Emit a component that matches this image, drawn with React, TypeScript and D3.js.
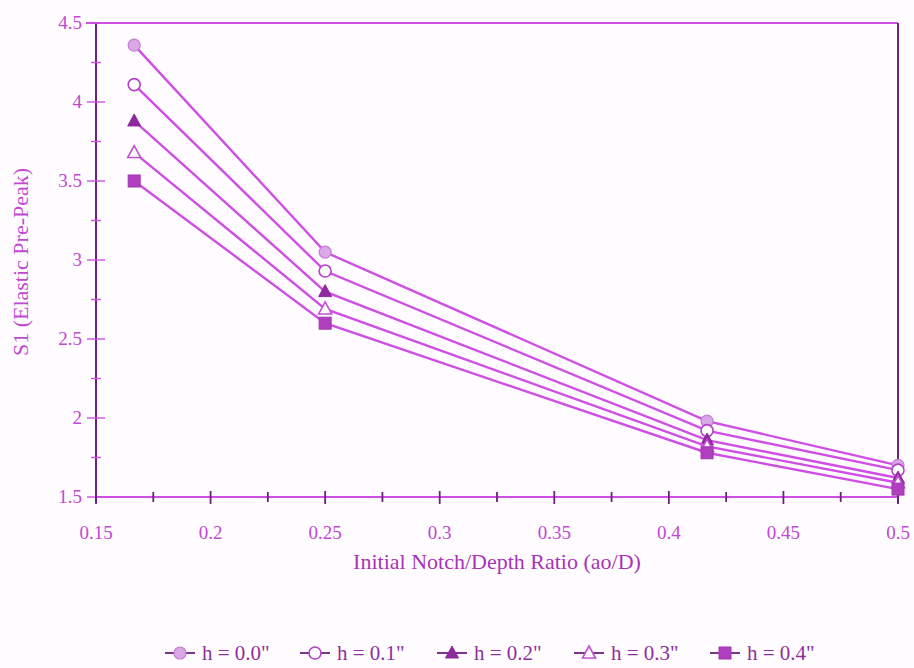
import React from "react";
import * as d3 from "d3";

const xValues = [1 / 6, 0.25, 5 / 12, 0.5];
const seriesNames = ['h = 0.0"', 'h = 0.1"', 'h = 0.2"', 'h = 0.3"', 'h = 0.4"'];
const s00 = [4.36, 3.05, 1.98, 1.70];
const s01 = [4.11, 2.93, 1.92, 1.67];
const s02 = [3.88, 2.80, 1.86, 1.62];
const s03 = [3.68, 2.69, 1.82, 1.59];
const s04 = [3.50, 2.60, 1.78, 1.55];
const xTicks = [0.15, 0.2, 0.25, 0.3, 0.35, 0.4, 0.45, 0.5];
const yTicks = [1.5, 2, 2.5, 3, 3.5, 4, 4.5];
const markers = ["circleFilled", "circleOpen", "triFilled", "triOpen", "square"];

const W = 914, H = 668;
const left = 96, right = 898, top = 23, bottom = 497;
const LINE = "#cf4fe4";
const AXIS = "#6e1f80";
const TEXT = "#c148d2";
const FONT = "'Liberation Serif', 'Times New Roman', serif";

function Marker({ type, x, y }: { type: string; x: number; y: number }) {
  const r = 6;
  if (type === "circleFilled") return <circle cx={x} cy={y} r={r} fill="#dba8e6" stroke="#c77bd6" strokeWidth={1.2} />;
  if (type === "circleOpen") return <circle cx={x} cy={y} r={r} fill="#fff" stroke="#b540c8" strokeWidth={1.6} />;
  if (type === "triFilled") return <path d={`M${x},${y - 7}L${x + 6.5},${y + 5}L${x - 6.5},${y + 5}Z`} fill="#8e2a9e" stroke="#8e2a9e" />;
  if (type === "triOpen") return <path d={`M${x},${y - 7}L${x + 6.5},${y + 5}L${x - 6.5},${y + 5}Z`} fill="#fff" stroke="#c24fd4" strokeWidth={1.6} />;
  return <rect x={x - 6} y={y - 6} width={12} height={12} fill="#b03fbf" stroke="#a038b0" />;
}

export default function App() {
  const series = [s00, s01, s02, s03, s04];
  const x = d3.scaleLinear().domain([0.15, 0.5]).range([left, right]);
  const y = d3.scaleLinear().domain([1.5, 4.5]).range([bottom, top]);
  const line = d3.line<number>().x((_, i) => x(xValues[i])).y((d) => y(d));
  const xMinor = d3.range(0, 15).map((i) => 0.15 + i * 0.025);
  const yMinor = d3.range(0, 13).map((i) => 1.5 + i * 0.25);
  const legendX = [165, 300, 437, 574, 710];
  const legendY = 653;

  return (
    <svg width={W} height={H} style={{ display: "block", position: "absolute", left: 0, top: 0, background: "#fefcfe" }}>
      <line x1={86} x2={right} y1={top} y2={top} stroke={LINE} strokeWidth={2} />
      <line x1={right} x2={right} y1={top} y2={bottom + 6} stroke={AXIS} strokeWidth={2} />
      <line x1={left} x2={right} y1={bottom} y2={bottom} stroke={LINE} strokeWidth={2} />
      <line x1={left} x2={left} y1={top} y2={bottom + 6} stroke={AXIS} strokeWidth={2} />
      {yMinor.map((v, i) => (
        <line key={"ym" + i} x1={left - (i % 2 === 0 ? 9 : 5)} x2={left + (i % 2 === 0 ? 9 : 5)} y1={y(v)} y2={y(v)} stroke={LINE} strokeWidth={1.4} />
      ))}
      {xMinor.map((v, i) => (
        <line key={"xm" + i} x1={x(v)} x2={x(v)} y1={bottom - (i % 2 === 0 ? 6 : 5)} y2={bottom + (i % 2 === 0 ? 7 : 5)} stroke={AXIS} strokeWidth={1.8} />
      ))}
      {yTicks.map((v) => (
        <text key={"yl" + v} x={82} y={y(v) + 6} textAnchor="end" fontFamily={FONT} fontSize={19} fill={TEXT}>{v}</text>
      ))}
      {xTicks.map((v) => (
        <text key={"xl" + v} x={x(v)} y={539} textAnchor="middle" fontFamily={FONT} fontSize={19} fill={TEXT}>{v}</text>
      ))}
      <text x={497} y={569} textAnchor="middle" fontFamily={FONT} fontSize={22} fill="#a833b8">Initial Notch/Depth Ratio (ao/D)</text>
      <text transform={`translate(28,262) rotate(-90)`} textAnchor="middle" fontFamily={FONT} fontSize={22} fill={TEXT}>S1 (Elastic Pre-Peak)</text>
      {series.map((s, si) => (
        <g key={"s" + si}>
          <path d={line(s) || ""} fill="none" stroke={LINE} strokeWidth={2.4} />
          {s.map((v, i) => (
            <Marker key={i} type={markers[si]} x={x(xValues[i])} y={y(v)} />
          ))}
        </g>
      ))}
      {seriesNames.map((n, i) => (
        <g key={"lg" + i}>
          <line x1={legendX[i]} x2={legendX[i] + 30} y1={legendY} y2={legendY} stroke={AXIS} strokeWidth={1.8} />
          <Marker type={markers[i]} x={legendX[i] + 15} y={legendY} />
          <text x={legendX[i] + 37} y={legendY + 7} fontFamily={FONT} fontSize={21} fill="#8e2f9c">{n}</text>
        </g>
      ))}
    </svg>
  );
}
